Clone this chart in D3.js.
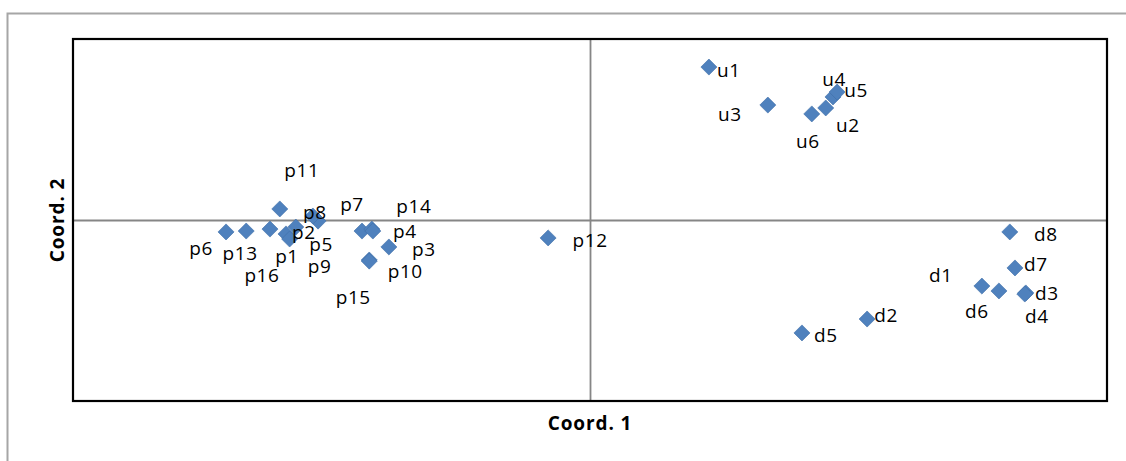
<!DOCTYPE html>
<html>
<head>
<meta charset="utf-8">
<script src="https://cdn.jsdelivr.net/npm/d3@7"></script>
<style>
  html, body { margin: 0; padding: 0; background: #fff; }
  svg { display: block; }
</style>
</head>
<body>
<svg id="chart" width="1126" height="461"></svg>
<script>
// ---- data ----
const labels = ["u1","u3","u6","u2","u4","u5",
                "d8","d7","d1","d6","d3","d4","d2","d5",
                "p12","p11","p6","p13","p16","p1","p2","p9","p5","p8",
                "p7","p14","p4","p3","p10","p15"];
const coord1 = [0.23, 0.344, 0.429, 0.456, 0.47, 0.478,
                0.812, 0.822, 0.758, 0.791, 0.843, 0.841, 0.536, 0.41,
                -0.081, -0.6, -0.704, -0.665, -0.619, -0.588, -0.569, -0.581, -0.526, -0.536,
                -0.441, -0.422, -0.42, -0.389, -0.427, -0.427];
const coord2 = [0.845, 0.635, 0.586, 0.619, 0.68, 0.707,
                -0.066, -0.265, -0.365, -0.392, -0.403, -0.409, -0.547, -0.624,
                -0.099, 0.061, -0.066, -0.061, -0.05, -0.077, -0.039, -0.105, -0.006, 0.022,
                -0.061, -0.05, -0.061, -0.149, -0.221, -0.227];
const xDomain = [-1, 1];
const yDomain = [-1, 1];
const xTitle = "Coord. 1";
const yTitle = "Coord. 2";

// label placement (pixel offsets from each marker), as arranged in the reference
const labelOffsets = {
  u1:[20,3], u3:[-38,9], u6:[-4,27], u2:[22,17], u4:[1,-18], u5:[19,-2],
  d8:[36,2], d7:[21,-4], d1:[-41,-11], d6:[-22,20], d3:[21,0], d4:[12,22], d2:[19,-4], d5:[24,2],
  p12:[42,2], p11:[22,-39], p6:[-25,16], p13:[-6,22], p16:[-8,46], p1:[1,22], p2:[8,5],
  p9:[30,27], p5:[3,23], p8:[2,-4], p7:[-10,-27], p14:[42,-23], p4:[32,0], p3:[35,2],
  p10:[36,11], p15:[-16,36]
};

// ---- drawing ----
const svg = d3.select("#chart");
const plot = {left: 73, right: 1107, top: 39, bottom: 401};
const x = d3.scaleLinear().domain(xDomain).range([plot.left, plot.right]);
const y = d3.scaleLinear().domain(yDomain).range([plot.bottom, plot.top]);

// outer chart frame
svg.append("path")
  .attr("d", `M7.5,${470} L7.5,13.5 L1130,13.5`)
  .attr("fill", "none").attr("stroke", "#a6a6a6").attr("stroke-width", 2);

// axes crossing at zero (no ticks, no labels)
const xAxis = d3.axisBottom(x).tickValues([]).tickSize(0).tickSizeOuter(0);
const yAxis = d3.axisLeft(y).tickValues([]).tickSize(0).tickSizeOuter(0);
svg.append("g").attr("transform", `translate(0,${y(0)})`).call(xAxis)
  .select(".domain").attr("stroke", "#868686").attr("stroke-width", 1.8);
svg.append("g").attr("transform", `translate(${x(0)},0)`).call(yAxis)
  .select(".domain").attr("stroke", "#868686").attr("stroke-width", 1.8);

// plot area border
svg.append("rect")
  .attr("x", plot.left).attr("y", plot.top)
  .attr("width", plot.right - plot.left).attr("height", plot.bottom - plot.top)
  .attr("fill", "none").attr("stroke", "#000").attr("stroke-width", 2.2);

const points = labels.map((l, i) => ({label: l, cx: coord1[i], cy: coord2[i]}));

const diamond = d3.symbol().type(d3.symbolDiamond2).size(165);
svg.append("g").selectAll("path").data(points).join("path")
  .attr("d", diamond)
  .attr("transform", d => `translate(${x(d.cx)},${y(d.cy)})`)
  .attr("fill", "#4f81bd")
  .attr("stroke", "#3f6fa8").attr("stroke-width", 0.6);

svg.append("g").selectAll("text").data(points).join("text")
  .attr("x", d => x(d.cx) + labelOffsets[d.label][0])
  .attr("y", d => y(d.cy) + labelOffsets[d.label][1])
  .attr("text-anchor", "middle")
  .attr("dominant-baseline", "central")
  .attr("font-family", "'Open Sans', 'Liberation Sans', sans-serif")
  .attr("font-size", 19)
  .attr("letter-spacing", 0.6)
  .attr("fill", "#000")
  .text(d => d.label);

svg.append("text")
  .attr("x", x(0)).attr("y", 423)
  .attr("text-anchor", "middle").attr("dominant-baseline", "central")
  .attr("font-family", "'Open Sans', 'Liberation Sans', sans-serif")
  .attr("font-weight", "bold").attr("font-size", 19)
  .attr("letter-spacing", 0.9)
  .text(xTitle);

svg.append("text")
  .attr("transform", `translate(57,${y(0)}) rotate(-90)`)
  .attr("text-anchor", "middle").attr("dominant-baseline", "central")
  .attr("font-family", "'Open Sans', 'Liberation Sans', sans-serif")
  .attr("font-weight", "bold").attr("font-size", 19)
  .attr("letter-spacing", 0.9)
  .text(yTitle);
</script>
</body>
</html>
